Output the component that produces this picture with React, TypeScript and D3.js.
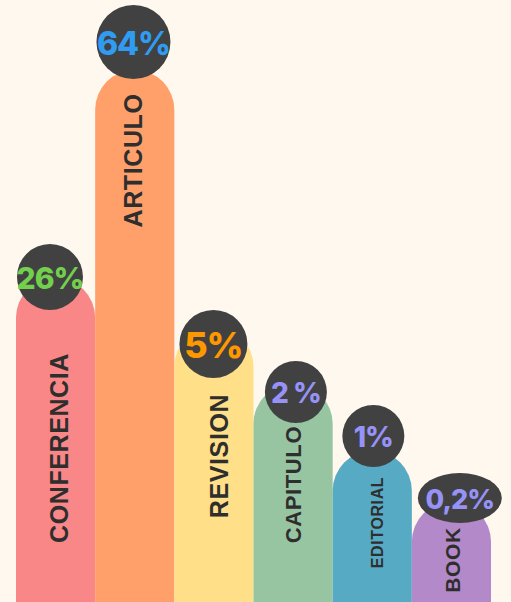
import React from "react";
import * as d3 from "d3";

const categories = ["CONFERENCIA", "ARTICULO", "REVISION", "CAPITULO", "EDITORIAL", "BOOK"];
const percentLabels = ["26%", "64%", "5%", "2 %", "1%", "0,2%"];
// visual bar heights (px from the bottom, infographic scale)
const barHeights = [324, 532, 275, 218, 151, 100];
// bubble centre level (px from bottom)
const bubbleLevels = [325, 560, 258, 210, 166, 104];
// category label centre level (px from bottom)
const labelLevels = [154, 441.5, 146, 117.5, 79.5, 42];

// styles / layout (kept apart from data)
const barColors = ["#F98787", "#FFA06B", "#FFDF88", "#97C5A2", "#57AAC3", "#B489C9"];
const pctColors = ["#72D04C", "#2F9CF2", "#FF9800", "#9692F7", "#9692F7", "#9692F7"];
const bubbleRx = [33, 37, 34, 31, 31, 42];
const bubbleRy = [33, 37, 34, 31, 31, 25];
const bubbleDx = [-5.6, -1.3, -0.5, 2.8, 1.1, 8.4];
const labelDx = [3.4, -1.3, 5, 0.3, 5.1, 0.9];
const labelSizes = [25, 25, 25, 22, 16, 21];
const pctSizes = [30, 32, 36, 28, 28, 27];

const W = 511;
const H = 602;

export default function App() {
  const x = d3.scaleBand<string>().domain(categories).range([16, 491]).paddingInner(0).paddingOuter(0);
  const y = d3.scaleLinear().domain([0, H]).range([H, 0]);
  const bw = x.bandwidth();
  const r = bw / 2;

  const barPath = (i: number) => {
    const x0 = x(categories[i])!;
    const top = y(barHeights[i]);
    const p = d3.path();
    p.moveTo(x0, H);
    p.lineTo(x0, top + r);
    p.arc(x0 + r, top + r, r, Math.PI, 0, false);
    p.lineTo(x0 + bw, H);
    p.closePath();
    return p.toString();
  };

  return (
    <svg
      width={W}
      height={H}
      style={{ position: "absolute", left: 0, top: 0, display: "block" }}
    >
      <rect x={0} y={0} width={W} height={H} fill="#FFF8EE" />
      {categories.map((c, i) => (
        <path key={c} d={barPath(i)} fill={barColors[i]} />
      ))}
      {categories.map((c, i) => {
        const cx = x(c)! + bw / 2 + labelDx[i];
        const cy = y(labelLevels[i]);
        return (
          <text
            key={"l" + c}
            transform={`translate(${cx},${cy}) rotate(-90)`}
            textAnchor="middle"
            dominantBaseline="central"
            fontFamily="'Liberation Sans', Arial, sans-serif"
            fontWeight="bold"
            fontSize={labelSizes[i]}
            letterSpacing={0.6}
            fill="#2E2E2E"
          >
            {c}
          </text>
        );
      })}
      {categories.map((c, i) => {
        const cx = x(c)! + bw / 2 + bubbleDx[i];
        const cy = y(bubbleLevels[i]);
        return (
          <g key={"b" + c}>
            <ellipse cx={cx} cy={cy} rx={bubbleRx[i]} ry={bubbleRy[i]} fill="#414141" />
            <text
              x={cx}
              y={cy + 1}
              textAnchor="middle"
              dominantBaseline="central"
              fontFamily="Inter, 'Noto Sans', sans-serif"
              fontWeight={800}
              fontSize={pctSizes[i]}
              letterSpacing={-1}
              fill={pctColors[i]}
            >
              {percentLabels[i]}
            </text>
          </g>
        );
      })}
    </svg>
  );
}
